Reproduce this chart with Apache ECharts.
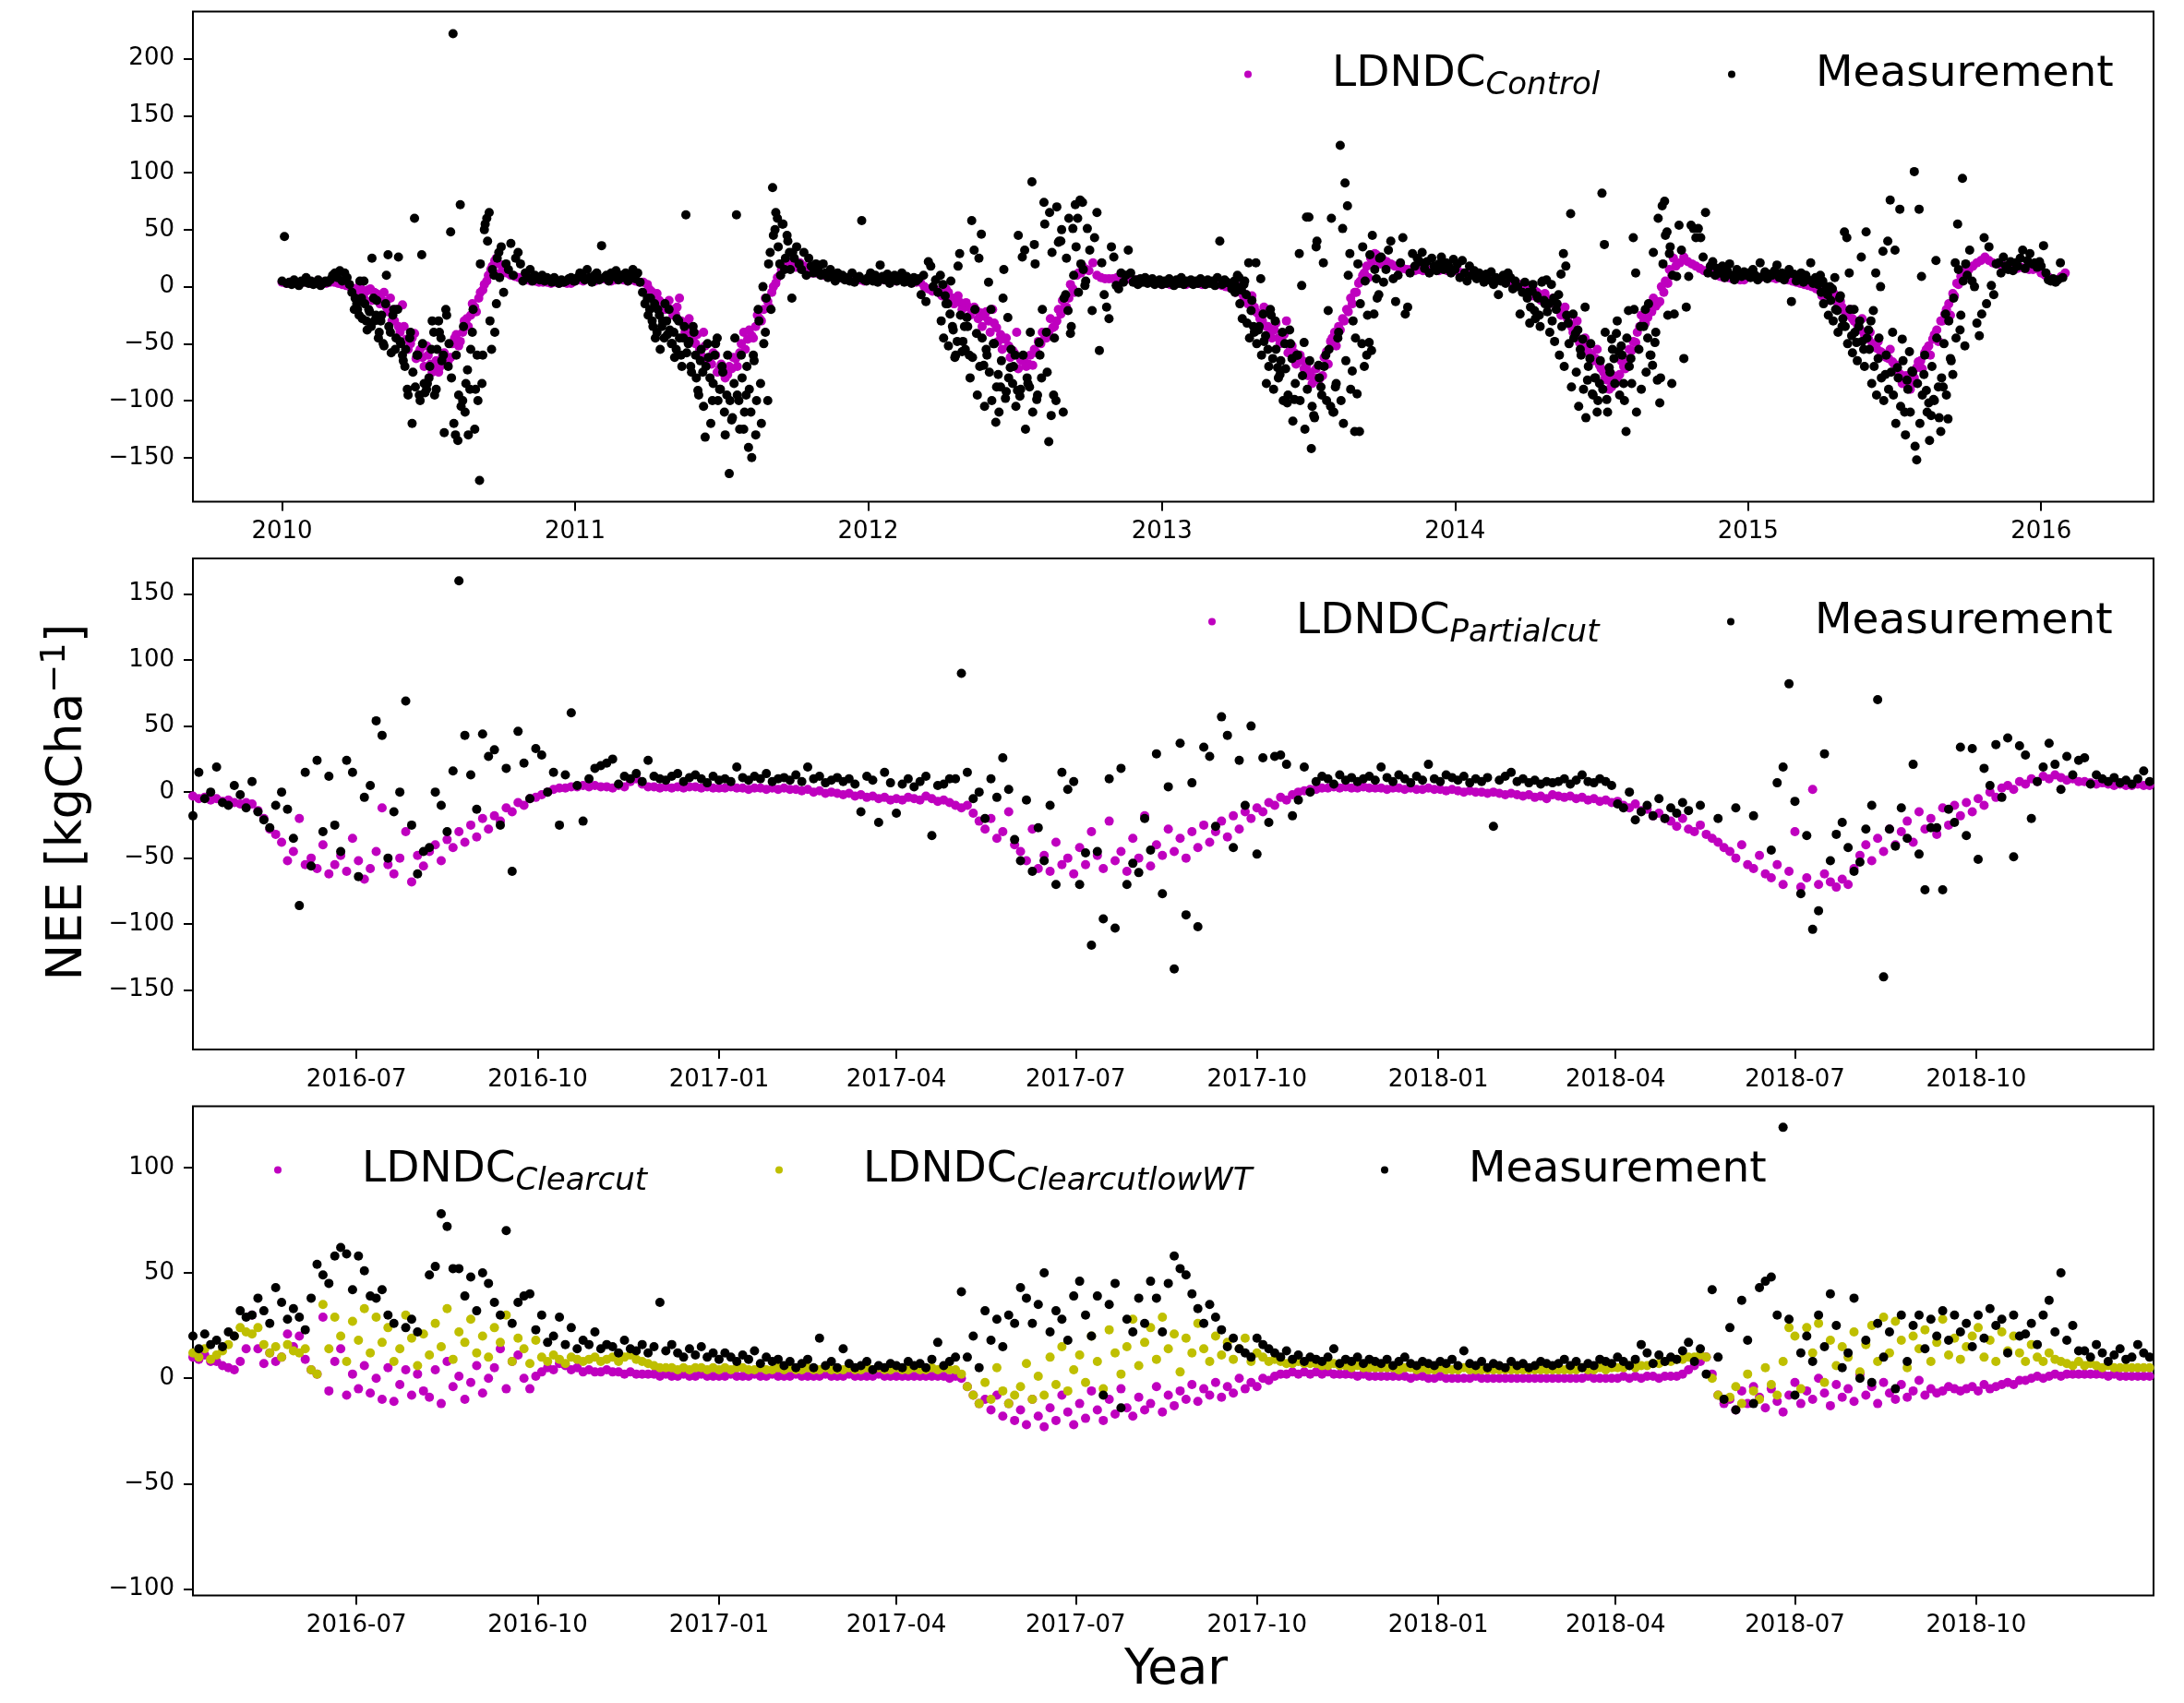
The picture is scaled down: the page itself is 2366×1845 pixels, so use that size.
<!DOCTYPE html>
<html>
<head>
<meta charset="utf-8">
<script src="https://cdn.jsdelivr.net/npm/echarts@6/dist/echarts.min.js"></script>
<style>
  html, body { margin: 0; padding: 0; background: #ffffff; }
  #chartContainer { width: 2366px; height: 1845px; }
</style>
</head>
<body>
<div id="chartContainer"></div>
<script>
var FONT = 'DejaVu Sans';
var MAGENTA = '#bf00bf';
var OLIVE = '#bfbf00';
var BLACK = '#000000';

// tick positions
var YEAR_TICKS = [2010, 2011, 2012, 2013, 2014, 2015, 2016];
var QUARTER_TICKS = ['2016-07', '2016-10', '2017-01', '2017-04', '2017-07', '2017-10', '2018-01', '2018-04', '2018-07', '2018-10'];
var Y_TICKS_CONTROL = [-150, -100, -50, 0, 50, 100, 150, 200];
var Y_TICKS_PARTIAL = [-150, -100, -50, 0, 50, 100, 150];
var Y_TICKS_CLEAR = [-100, -50, 0, 50, 100];

// Control site: LDNDC every 5 days from 1 Jan of each year
var CTRL_MODEL_STEP = 5;
var ctrlModel2010 = [4,3,4,5,3,4,4,3,4,5,4,3,4,4,3,2, 1,0,-2,-1,-3,-4,-2,-5, -7,-12,-18,-10,-30,-35,-16,
  -46,-50,-41,-58,-62,-52,-68, -72,-75,-60,-68, -62,-45,-52,-40,-28,-25, -18,-10,-3,5, 15,23,20,
  14,12,10,9,8,7, 6,5,5,4,4,4,3,4,3,4,3,3];
var ctrlModel2011 = [5,6,5,7,6,5,6,7,6,5,6,7,6,5,6,5,4,4, 2,-4,-8,-12,-15,-18, -20,-24,-10,-32,-35,-45,
  -50,-55,-40,-64,-68,-60,-72, -76,-77,-72, -63,-58,-40,-46,-43, -35,-28,-20,-13, -5,3,10,18,
  20,18,17,21,18,15,12, 12,11,10,10,9,8,8,7,7,6,6,6,5];
var ctrlModel2012 = [6,7,5,8,6,9,7,5,8,6,5,4,4,4, 0,-2,-4,-3,-6,-7,-5, -10,-12,-14,-16,-18,-20,-21,
  -23,-26,-30,-20,-36,-42,-46, -52,-56,-40,-64,-66,-68,-69,-58, -50,-45,-40,-36,-30, -24,-18,-10,-2,
  10,12,15,14,21, 10,8,7,7,7,8,7,6,7,6, 6,5,5,4,5,4];
var ctrlModel2013 = [2,3,2,3,4,3,2,3,4,3,2,3,4,3,2,1,0,-1,-2,-4,-6, -7,-12,-18,-24,-30,-35,-40,
  -38,-45,-49,-30,-55,-58,-63,-65, -69,-75,-80,-82,-78, -57,-48,-40,-35, -28,-20,-10,-5,3,
  10,18,25,29, 26,24,22,20, 18,17,16,15,15,14,15,14,15,14,15,14,15,14,14];
var ctrlModel2014 = [14,13,12,12,11,10,9,8,8,7, 7,7,6,5,4,3,2,1,0,-2,-4, -7,-9,-11,-13,-15,-18,
  -22,-28,-35,-42,-49, -52,-56,-60,-63,-69, -75,-82,-88,-85, -77,-70,-63,-56,-49,
  -35,-31,-27,-22,-17,-13, -5,3,10,18,21, 26,22,20,18,16,14,13,12, 10,9,8,8,7,7,6,6];
var ctrlModel2015 = [9,9,8,8,9,8,8,7,8,7,6, 5,4,3,2,1,0,-2, -4,-6,-8,-10,-12,-13, -21,-25,-28,-32,
  -38,-42,-46,-50,-54, -57,-60,-63,-66,-69, -77,-82,-88,-85, -71,-65,-58,-52, -46,-38,-30,-24,
  -15,-6,3,9, 12,15,18,21,23, 26,23,21,20,19,18,18,17,16,17,16,15,15,16];
var ctrlModel2016 = [12,10,8,6,6,9,12];

// Control site: LDNDC growing-season days in between, every 5 days from day 92
var CTRL_SUMMER_MODEL_START = 92;
var ctrlModelSummer2010 = [-8,2,-10,-3,-12,-6,-15,-5,-22,-30, -20,-40,-35,-55,-45,-63,-55,-70,-60,-75,
  -65,-70,-58,-65,-50,-42,-48,-30,-35,-15, -22,-5,2,10,18,25,12];
var ctrlModelSummer2011 = [-2,-10,-6,-15,-20,-12,-25,-18,-30,-40, -28,-48,-42,-60,-52,-65,-58,-75,-68,-80,
  -70,-62,-70,-50,-55,-38,-45,-25,-30,-10, -18,0,8,15,24,18,22];
var ctrlModelSummer2012 = [-8,-2,-12,-15,-8,-20,-14,-25,-18,-28, -35,-22,-40,-32,-48,-55,-45,-62,-58,-72,
  -65,-70,-60,-55,-48,-40,-45,-28,-35,-20, -12,-18,2,-5,12,18,15];
var ctrlModelSummer2013 = [-5,0,-10,-15,-8,-22,-28,-18,-35,-45, -32,-50,-42,-58,-52,-68,-60,-72,-78,-85,
  -72,-80,-62,-68,-45,-52,-38,-30,-22,-15, -5,5,12,8,22,28,20];
var ctrlModelSummer2014 = [0,-8,-5,-12,-6,-15,-10,-20,-25,-18, -32,-40,-30,-50,-45,-58,-65,-55,-72,-80,
  -90,-78,-82,-65,-72,-55,-48,-40,-25,-32, -18,-10,-15,0,5,15,25];
var ctrlModelSummer2015 = [-8,-2,-12,-6,-15,-18,-25,-20,-30,-36, -28,-45,-40,-52,-48,-58,-62,-55,-68,-75,
  -85,-78,-90,-80,-66,-72,-55,-60,-42,-48, -30,-20,-25,-8,2,10,18];

// Control site: measurements every 3 days from 1 Jan of each year
var CTRL_MEAS_STEP = 3;
var ctrlMeas2010 = [5,44,3,4,2,6,3,1,5,4,8, 3,5,2,4,6,1,3,5,4, 6,10,12,8,14,5,12,8,2,-5,-20,
  -15,-25,-10,5,-30,-20,-35,-10,-25,-45, -30,-50,-15,28,-40,-25,-55,-20,-48,-60,
  -70,-90,-45,-120,60,-60,-95,28,-85,-90, -80,-55,-40,-90,-30,-45,-60,-20,-70,48,
  222,-130,-135,72,-100,-110,-73,-90,-40,-125, -60,-170,-85,50,60,65,-55,10,-15,30,
  35,-5,20,15,38,10,25,30,20,5, 12,8,15,5,10,8,6,10,5,8, 6,4,8,5,3,6,4,5,7,8,5];
var ctrlMeas2011 = [5,8,12,10,6,15,8,4,10,12,6, 36,8,10,5,12,9,14,6,10, 8,12,5,10,15,7,12,4,-5,-15,-10,
  -20,-30,-15,-40,-25,-35,-45,-30,-20,-50, -40,-55,-30,-60,-45,63,-50,-70,-35,-60,
  -91,-65,-75,-132,-50,-80,-100,-60,-45,-90, -70,-110,-95,-164,-117,-85,63,-100,-60,-125,
  -95,-141,-110,-60,-130,-20,-85,0,-40,-100, 30,87,50,60,20,55,15,45,30,-10,
  25,35,20,15,30,10,25,18,12,20, 15,10,20,12,8,15,10,5,12,8, 10,6,8,5,12,4,7,9,58,6,5];
var ctrlMeas2012 = [8,12,5,10,4,19,9,6,11,3,7, 10,5,8,12,4,9,6,3,8, 5,7,-7,10,-13,22,18,0,6,-5,10,
  2,-8,-15,-24,-35,-62,-48,29,-57,-35, -27,-60,58,32,-41,25,46,-69,-55,4,
  -20,-50,-119,-77,-88,-10,-98,-27,-71,-85, -60,-91,-96,26,32,-80,-88,92,37,-99,
  -49,-80,74,-40,-136,-113,-95,-100,39,40, -110,-7,-21,-41,51,72,60,76,74,1,
  51,32,-21,43,65,-56,21,-7,-18,-28, 35,26,1,-2,12,4,10,32,12,4, 6,2,7,4,8,3,5,7,2,4,6];
var ctrlMeas2013 = [2,5,3,7,4,1,6,3,8,2,5, 4,6,2,5,3,7,4,2,6, 3,5,1,8,40,2,6,4,3,-2,5,
  0,8,-3,2,-7,21,-21,-35,21,-38, 7,-24,-43,-55,-20,-63,-30,-71,-77,-40,
  -50,-102,-38,-63,-99,-60,29,1,-49,61, 61,-142,-113,35,-69,-88,21,-60,-21,-105,
  -110,-88,-45,124,51,91,71,29,-74,-127, -94,-127,-50,-70,-60,-49,-56,-24,7,-7,
  26,4,15,32,40,7,-13,10,21,43, -24,-18,12,29,18,25,22,30,16,22, 12,25,18,14,20,26,15,21,18,12,24];
var ctrlMeas2014 = [15,20,8,23,12,5,18,10,14,7,12, 9,4,11,6,13,2,8,-7,5, 10,3,12,8,-2,5,0,-24,-5,4,-10,
  -32,-4,-21,-8,-25,4,-12,6,-15,2, -10,-20,-7,11,29,18,-32,64,-24,-41,
  -38,-55,-46,-18,-82,-63,-94,-80,-110,-85, 82,37,-99,-71,-46,-63,-41,-57,-52,-85,
  -127,-21,-63,43,12,null,-35,null,-20,-45, -60,-69,-49,-82,-102,71,75,48,29,-85,
  -24,9,54,32,-63,-18,9,54,51,43, 51,43,26,65,12,18,22,10,16,12, 18,8,14,20,10,6,15,11,9,13,10];
var ctrlMeas2015 = [12,8,15,10,6,21,9,13,7,11,10, 14,19,8,12,6,10,15,-13,11, 5,8,12,4,10,6,21,3,8,2,10,
  5,-4,-7,0,-2,8,-21,-10,-35,48, 43,12,-43,-20,-49,-35,26,-55,48,-38,
  -30,-21,12,-63,0,31,-77,40,76,-40, 32,-71,68,-46,-110,-82,-57,-74,101,-152,
  68,9,-77,-91,-102,-113,-99,23,-88,-127, -88,-24,-116,-63,-77,21,55,-38,95,-52,
  10,32,5,0,-32,-43,-24,43,-15,35, 1,-7,20,21,12,26,18,15,22,14, 21,18,25,32,16,23,29,20,21,17,22];
var ctrlMeas2016 = [18,36,12,6,5,7,4,6,21,8];

// Control site: growing-season measurements in between, every 3 days from day 91
var CTRL_SUMMER_MEAS_START = 91;
var ctrlMeasSummer2010 = [-10,-20,5,-28,-15,-38,-22,25,-30,-12, -40,-25,-52,10,-35,-58,-20,-45,26,-50,
  -65,-55,-95,-40,-75,-88,-60,-100,-50,-93, -85,-70,-30,-95,-55,-40,-65,-128,-25,-50,
  -80,-120,-60,-95,-105,-35,-85,-130,-55,-20, -90,-100,20,-60,55,40,-30,15,-40,25,8];
var ctrlMeasSummer2011 = [-25,-10,-35,-45,-20,-55,-30,-15,-42,-38, -50,-62,-28,-45,-70,-35,-58,-48,-75,-40,
  -80,-95,-55,-105,-70,-62,-120,-85,-50,-100, -90,-75,-130,-60,-100,-115,-45,-95,-125,-80,
  -110,-70,-90,-150,-65,-100,-30,-120,-50,-10, 20,-20,45,65,35,10,55,25,40,15,30];
var ctrlMeasSummer2012 = [-30,-45,-15,-52,5,-38,-60,18,-25,-48, -55,-35,-80,-62,-20,-95,-70,-45,-105,-60,
  -75,-100,-50,-88,-110,-65,15,-92,-80,-55, -70,-105,45,-90,-60,-125,-85,-40,-110,20,
  -95,-60,-20,55,-75,65,30,-45,70,40, 50,-10,25,60,-35,10,35,-5,20,15,5];
var ctrlMeasSummer2013 = [-5,10,-15,-28,5,-32,-45,-12,-40,-50, -35,-60,-48,-85,-70,-25,-90,-55,-80,-65,
  -100,-72,-95,-50,-118,-85,-60,-100,-78,-125, -90,-65,-105,-115,40,-80,-95,-70,-100,-55,
  60,-110,-85,-40,-100,-120,-65,10,-90,-30, -45,20,-15,35,5,-25,28,45,15,-10,25];
var ctrlMeasSummer2014 = [-5,-18,2,-28,-10,-35,5,-15,-22,-40, -30,-48,-15,-60,-35,-70,-25,-50,-88,-45,
  -75,-105,-60,-90,-115,-70,-50,-95,-80,-100, -65,-90,-40,-110,-75,-55,-85,-30,-95,-60,
  -100,-45,-70,-85,-20,-110,-55,-90,-35,-75, -15,-60,30,-40,60,-80,20,45,-25,35,10];
var ctrlMeasSummer2015 = [-5,-15,0,-25,-12,-30,-20,-40,-8,-28, -35,-50,-20,-58,-40,-65,-30,-48,-70,-45,
  -55,-85,-70,-95,-45,-80,-100,-60,-90,-75, -95,-120,-80,-105,-65,-130,-90,-110,-75,-140,
  -85,-120,-95,-60,-110,-135,-70,-100,-45,-115, -80,-50,-95,-30,-65,-10,-45,15,-25,5,20];

// Cut sites: every 3 days from 9 Apr 2016
var CUT_START = [2016, 3, 9];
var CUT_STEP = 3;
var partialModel = [-3,-5,-4,-6,-5,-7,-6,-8,-9,-8, -9,-14,-20,-28,-32,-38,-52,-45,-20,-55,
  -50,-58,-40,-62,-55,-48,-60,-35,-52,-66, -58,-45,-12,-55,-62,-50,-30,-68,-48,-56,
  -45,-40,-52,-36,-42,-30,-38,-25,-34,-20, -28,-18,-22,-12,-15,-8,-10,-5,-4,-2,
  0,2,3,3,4,4,5,4,5,4, 4,3,5,4,8,10,6,4,4,3, 4,3,4,3,4,4,3,4,3,3, 3,4,3,3,2,3,3,2,3,2,
  3,2,2,1,2,0,1,-1,0,-1, -2,-1,-3,-2,-4,-3,-5,-4,-6,-5, -6,-4,-5,-6,-3,-5,-7,-6,-8,-10,
  -12,-10,-16,-22,-28,-20,-35,-30,-15,-40, -45,-52,-28,-58,-48,-60,-38,-55,-50,-62,
  -42,-55,-30,-48,-58,-22,-52,-45,-60,-35, -50,-18,-56,-40,-48,-28,-45,-35,-50,-30,
  -42,-25,-38,-30,-22,-34,-18,-28,-15,-20, -12,-15,-8,-10,-4,-6,-2,0,1,2,
  2,3,3,4,3,4,3,3,4,3, 3,3,2,3,3,2,3,2,2,3, 2,2,1,2,1,0,1,0,0,-1, 0,-1,-2,-1,-2,-3,-2,-4,-3,-5,
  -2,-3,-4,-3,-5,-4,-6,-5,-7,-6, -8,-7,-10,-12,-9,-14,-13,-18,-16,-20,
  -22,-26,-20,-28,-30,-25,-32,-35,-38,-42, -45,-50,-40,-55,-58,-48,-62,-65,-55,-70,
  -60,-30,-72,-65,2,-70,-62,-68,-72,-66, -70,-58,-48,-40,-52,-35,-45,-28,-40,-30,
  -22,-38,-15,-28,-20,-32,-12,-25,-10,-18, -8,-15,-5,-10,0,-4,3,5,2,8,
  6,10,8,12,10,13,11,9,10,8, 8,7,6,7,6,5,6,5,5,6,5,5];
var partialMeas = [-18,15,-5,0,19,-8,-10,5,-2,-12, 8,-15,-21,-27,-10,0,-13,-35,-86,15,
  -56,24,-30,12,-25,-45,24,15,-64,-4, 5,54,43,-50,-15,0,69,-25,-62,-45,
  -42,0,-10,-30,16,160,43,13,-13,44, 27,32,-25,18,-60,46,22,-5,33,28,
  0,15,-25,13,60,5,-22,10,18,20, 22,25,6,12,10,14,8,24,12,10, 9,12,14,8,11,13,10,7,12,9,
  10,8,19,11,9,12,10,14,8,10, 11,9,13,8,19,10,12,7,9,11, 8,10,6,-15,12,9,-23,15,7,-16,
  6,10,4,8,12,-33,5,6,10,10, 90,15,-5,0,-20,10,-4,26,2,-36, -52,-6,-60,-27,-52,-10,-70,15,2,8,
  -70,-46,-116,-45,-96,10,-103,18,-70,-54, -61,-20,-44,29,-77,4,-134,37,-93,7,
  -102,34,27,-26,57,43,-42,24,-10,50, -47,26,-23,27,28,21,-18,-6,19,0,
  8,12,10,6,13,9,11,8,10,12, 9,19,11,8,13,10,7,12,9,21, 10,8,13,11,9,12,7,10,8,11,
  -26,9,12,15,8,10,7,9,6,8, 7,8,10,6,9,13,8,7,10,8, 5,-9,-12,0,-21,-15,-10,-18,-5,-20,
  -12,-16,-8,-14,null,-10,null,null,-20,null, null,-12,null,null,-18,null,null,-44,7,19,
  82,-7,-77,-33,-104,-90,29,-52,-32,-23, -42,-60,-53,-28,-10,70,-140,-28,-41,-12,
  -35,21,-47,-74,-27,-27,-74,-13,-23,34, -33,33,-51,18,5,36,-4,41,-49,35,
  28,-20,8,19,37,21,2,27,13,24, 26,6,13,10,8,11,7,9,6,10,16,8];
var clearModel = [10,9,11,8,8,6,5,4,8,14, 30,14,7,12,8,10,21,15,20,9, 4,2,29,-6,8,14,-8,2,-5,6,
  -7,0,-10,5,-11,-3,4,-8,2,-6, -9,4,-12,8,-4,1,-10,-2,6,-7, 0,5,14,-5,8,11,0,-5,1,3,
  5,4,7,6,4,5,3,4,3,3, 4,3,3,2,3,2,2,2,2,1, 2,1,1,2,1,1,2,1,1,1, 1,2,1,1,1,2,1,1,2,1,
  1,1,2,1,1,1,1,2,1,1, 1,2,1,1,1,1,2,1,1,1, 1,1,1,1,1,1,1,1,0,1,
  0,-4,-8,-12,-10,-15,-8,-18,-12,-20, -15,-22,-10,-18,-23,-14,-20,-8,-16,-22,
  -12,-19,-6,-15,-20,-10,-17,-5,-14,-18, -9,-15,-12,-4,-16,-8,-13,-6,-10,-3,
  -11,-5,-8,-2,-9,-4,-7,0,-5,-2, -4,0,-1,1,2,2,3,2,3,2, 3,2,3,2,2,2,2,1,2,1,
  1,1,1,1,1,1,0,1,1,0, 0,1,0,0,0,0,0,1,0,0, 0,0,0,0,0,0,0,0,0,0, 0,0,0,0,0,0,1,0,0,0,
  0,0,1,0,1,0,1,1,0,1, 1,1,2,4,6,8,10,2,-8,-12, -10,-15,-6,-12,-4,-9,-14,-5,-11,-16,
  -8,-2,-12,-6,-10,0,-7,-13,-3,-9, -5,-11,2,-8,-4,-12,-2,-7,-10,-3, -9,-6,-1,-8,-5,-7,-6,-4,-5,-6,
  -5,-4,-6,-3,-5,-4,-3,-2,-3,-1, -1,0,1,0,1,2,1,2,2,2, 2,2,2,2,1,2,1,1,1,1,1,1];
var clearLowWtModel = [12,10,14,9,11,13,16,20,24,22, 21,24,16,12,15,10,16,13,12,14,
  4,2,35,14,29,20,8,27,18,33, 12,29,17,24,8,14,30,19,6,21, 11,26,15,33,9,22,17,28,12,20,
  10,24,17,30,8,19,14,7,18,10, 8,11,9,7,10,9,8,9,10,8, 9,10,8,10,11,9,8,7,6,5,
  5,5,4,5,4,5,5,4,5,4, 5,4,5,5,4,4,5,4,4,5, 4,5,4,4,5,4,4,5,4,4, 4,5,4,4,5,4,5,4,4,5,
  4,4,5,4,4,5,4,5,4,4, 2,-4,-8,-12,-2,-10,5,-6,-12,-8, -4,7,-10,1,-8,10,-3,15,-6,4,
  11,-2,20,8,-5,23,12,2,15,28, 6,17,24,9,29,14,21,3,19,12, 26,14,8,20,11,17,9,14,19,8,
  12,10,8,9,8,7,7,8,7,7, 7,6,6,7,6,6,5,6,5,5, 5,5,5,5,4,5,5,4,5,4, 4,5,4,4,4,5,4,4,4,4,
  4,4,4,4,4,4,4,4,4,4, 4,4,4,4,4,5,4,4,5,4, 5,5,5,6,5,6,6,7,7,8, 8,9,9,10,10,11,10,0,-8,-10,
  -9,-4,-12,2,-6,-10,5,-3,-8,8, 24,20,-5,24,12,26,-2,18,6,15, 10,22,3,16,25,8,29,12,27,18,
  5,20,14,23,8,17,28,11,19,9, 15,20,24,10,18,8,22,13,20,12, 8,16,10,8,12,9,8,7,6,8,
  6,7,6,5,6,5,5,5,5,5,5,5];
var clearMeas = [20,14,21,16,18,15,22,20,32,29, 30,38,32,26,43,36,28,33,29,23,
  38,54,49,45,58,62,59,42,58,51, 39,38,42,30,26,null,24,28,22,null,
  49,53,78,72,52,52,39,48,32,50, 45,36,30,70,26,36,39,40,23,30,
  17,20,29,16,24,14,18,16,22,14, 16,15,12,18,14,13,16,12,15,36, 13,16,12,10,14,11,15,10,12,9,
  12,10,8,11,9,13,7,10,8,9, 6,8,5,7,9,5,19,6,8,5, 14,7,5,6,8,4,6,5,7,6,
  5,8,6,7,5,9,17,6,8,10, 41,10,20,5,32,18,28,15,30,26, 43,38,26,35,50,22,32,28,18,39,
  46,30,20,39,-8,35,45,-14,28,22, 38,26,46,38,22,45,58,52,49,40, 33,26,35,29,23,15,19,14,12,10,
  19,16,14,12,10,13,9,11,8,10, 9,8,10,14,7,9,8,10,7,9, 8,7,9,6,8,10,7,6,8,7,
  6,8,7,9,6,13,7,6,8,5, 7,6,5,8,6,7,5,6,8,7, 6,7,9,6,8,5,7,6,9,8, 7,10,8,6,9,16,12,7,11,8,
  10,9,13,17,8,14,2,42,10,-10, 24,-15,37,18,-12,43,46,48,30,119, 28,-8,12,20,8,30,15,40,25,5,
  12,38,0,18,-2,26,10,22,-5,30, 8,25,30,14,28,20,32,18,30,22, 26,15,30,19,33,25,28,12,30,20,
  21,26,16,30,37,22,50,18,25,13, 13,10,16,12,8,11,14,9,10,16,12,10];

function yearSeries(year, startDay, step, values) {
  var out = [];
  values.forEach(function (v, i) {
    if (v !== null) out.push([new Date(year, 0, 1 + startDay + i * step).getTime(), v]);
  });
  return out;
}

function cutSeries(values) {
  var out = [];
  values.forEach(function (v, i) {
    if (v !== null) out.push([new Date(CUT_START[0], CUT_START[1], CUT_START[2] + i * CUT_STEP).getTime(), v]);
  });
  return out;
}

var ctrlModelData = [].concat(
  yearSeries(2010, 0, CTRL_MODEL_STEP, ctrlModel2010), yearSeries(2011, 0, CTRL_MODEL_STEP, ctrlModel2011),
  yearSeries(2012, 0, CTRL_MODEL_STEP, ctrlModel2012), yearSeries(2013, 0, CTRL_MODEL_STEP, ctrlModel2013),
  yearSeries(2014, 0, CTRL_MODEL_STEP, ctrlModel2014), yearSeries(2015, 0, CTRL_MODEL_STEP, ctrlModel2015),
  yearSeries(2016, 0, CTRL_MODEL_STEP, ctrlModel2016),
  yearSeries(2010, CTRL_SUMMER_MODEL_START, CTRL_MODEL_STEP, ctrlModelSummer2010),
  yearSeries(2011, CTRL_SUMMER_MODEL_START, CTRL_MODEL_STEP, ctrlModelSummer2011),
  yearSeries(2012, CTRL_SUMMER_MODEL_START, CTRL_MODEL_STEP, ctrlModelSummer2012),
  yearSeries(2013, CTRL_SUMMER_MODEL_START, CTRL_MODEL_STEP, ctrlModelSummer2013),
  yearSeries(2014, CTRL_SUMMER_MODEL_START, CTRL_MODEL_STEP, ctrlModelSummer2014),
  yearSeries(2015, CTRL_SUMMER_MODEL_START, CTRL_MODEL_STEP, ctrlModelSummer2015));
var ctrlMeasData = [].concat(
  yearSeries(2010, 0, CTRL_MEAS_STEP, ctrlMeas2010), yearSeries(2011, 0, CTRL_MEAS_STEP, ctrlMeas2011),
  yearSeries(2012, 0, CTRL_MEAS_STEP, ctrlMeas2012), yearSeries(2013, 0, CTRL_MEAS_STEP, ctrlMeas2013),
  yearSeries(2014, 0, CTRL_MEAS_STEP, ctrlMeas2014), yearSeries(2015, 0, CTRL_MEAS_STEP, ctrlMeas2015),
  yearSeries(2016, 0, CTRL_MEAS_STEP, ctrlMeas2016),
  yearSeries(2010, CTRL_SUMMER_MEAS_START, CTRL_MEAS_STEP, ctrlMeasSummer2010),
  yearSeries(2011, CTRL_SUMMER_MEAS_START, CTRL_MEAS_STEP, ctrlMeasSummer2011),
  yearSeries(2012, CTRL_SUMMER_MEAS_START, CTRL_MEAS_STEP, ctrlMeasSummer2012),
  yearSeries(2013, CTRL_SUMMER_MEAS_START, CTRL_MEAS_STEP, ctrlMeasSummer2013),
  yearSeries(2014, CTRL_SUMMER_MEAS_START, CTRL_MEAS_STEP, ctrlMeasSummer2014),
  yearSeries(2015, CTRL_SUMMER_MEAS_START, CTRL_MEAS_STEP, ctrlMeasSummer2015));

var yearTickValues = YEAR_TICKS.map(function (y) { return new Date(y, 0, 1).getTime(); });
var quarterTickValues = QUARTER_TICKS.map(function (s) {
  var p = s.split('-');
  return new Date(+p[0], +p[1] - 1, 1).getTime();
});

function yearLabel(v) { return String(new Date(v).getFullYear()); }
function monthLabel(v) {
  var d = new Date(v);
  var m = d.getMonth() + 1;
  return d.getFullYear() + '-' + (m < 10 ? '0' + m : m);
}
function minusLabel(v) { return v < 0 ? '\u2212' + Math.abs(v) : String(v); }

function tickStyle(ticks) {
  return { show: true, inside: false, length: 10, customValues: ticks, lineStyle: { color: BLACK, width: 2 } };
}

// dates are kept as millisecond numbers on a value axis
function dateAxis(gridIndex, min, max, ticks, fmt) {
  return {
    type: 'value', gridIndex: gridIndex, min: min, max: max, scale: true,
    axisLine: { show: false, onZero: false },
    axisTick: tickStyle(ticks),
    axisLabel: { customValues: ticks, formatter: fmt, fontSize: 26, fontFamily: FONT, color: BLACK, margin: 20 },
    splitLine: { show: false }
  };
}

function valueAxis(gridIndex, min, max, ticks) {
  return {
    type: 'value', gridIndex: gridIndex, min: min, max: max,
    axisLine: { show: false, onZero: false },
    axisTick: tickStyle(ticks),
    axisLabel: { customValues: ticks, formatter: minusLabel, fontSize: 26, fontFamily: FONT, color: BLACK, margin: 20 },
    splitLine: { show: false }
  };
}

function dots(name, axisIndex, data, color) {
  return {
    name: name, type: 'scatter', xAxisIndex: axisIndex, yAxisIndex: axisIndex,
    data: data, symbol: 'circle', symbolSize: 10,
    itemStyle: { color: color, opacity: 1 },
    emphasis: { disabled: true }, animation: false
  };
}

var LEGEND_TEXT = {
  'LDNDC Control': '{g| }{m|LDNDC}{s|Control}',
  'LDNDC Partialcut': '{g| }{m|LDNDC}{s|Partialcut}',
  'LDNDC Clearcut': '{g| }{m|LDNDC}{s|Clearcut}',
  'LDNDC ClearcutlowWT': '{g| }{m|LDNDC}{s|ClearcutlowWT}',
  'Measurement': '{g| }{m|Measurement}'
};
var LEGEND_RICH = {
  g: { width: 82, fontSize: 47, fontFamily: FONT },
  m: { fontSize: 47, lineHeight: 60, fontFamily: FONT, color: BLACK },
  s: { fontSize: 34, lineHeight: 40, fontStyle: 'italic', fontFamily: FONT, color: BLACK, verticalAlign: 'bottom' }
};

function legendItem(name, left, top) {
  return {
    data: [name], left: left, top: top, padding: 0, orient: 'horizontal',
    icon: 'circle', itemWidth: 8, itemHeight: 8, itemGap: 0, selectedMode: false,
    formatter: function (n) { return LEGEND_TEXT[n]; },
    textStyle: { color: BLACK, fontFamily: FONT, fontSize: 47, rich: LEGEND_RICH }
  };
}

var GRID_STYLE = { show: true, borderColor: BLACK, borderWidth: 2, backgroundColor: 'transparent' };

var CHART_OPTION = {
  backgroundColor: '#ffffff',
  animation: false,
  grid: [
    Object.assign({ left: 209, width: 2124, top: 12.5, height: 531 }, GRID_STYLE),
    Object.assign({ left: 209, width: 2124, top: 605, height: 532 }, GRID_STYLE),
    Object.assign({ left: 209, width: 2124, top: 1198.5, height: 530 }, GRID_STYLE)
  ],
  xAxis: [
    dateAxis(0, new Date(2009, 8, 12).getTime(), new Date(2016, 4, 20).getTime(), yearTickValues, yearLabel),
    dateAxis(1, new Date(2016, 3, 9).getTime(), new Date(2018, 11, 30).getTime(), quarterTickValues, monthLabel),
    dateAxis(2, new Date(2016, 3, 9).getTime(), new Date(2018, 11, 30).getTime(), quarterTickValues, monthLabel)
  ],
  yAxis: [
    valueAxis(0, -188.6, 241.4, Y_TICKS_CONTROL),
    valueAxis(1, -195, 177, Y_TICKS_PARTIAL),
    valueAxis(2, -103, 129, Y_TICKS_CLEAR)
  ],
  legend: [
    legendItem('LDNDC Control', 1348, 57),
    legendItem('Measurement', 1872, 57),
    legendItem('LDNDC Partialcut', 1309, 650),
    legendItem('Measurement', 1871, 650),
    legendItem('LDNDC Clearcut', 297, 1244),
    legendItem('LDNDC ClearcutlowWT', 840, 1244),
    legendItem('Measurement', 1496, 1244)
  ],
  series: [
    dots('LDNDC Control', 0, ctrlModelData, MAGENTA),
    dots('Measurement', 0, ctrlMeasData, BLACK),
    dots('LDNDC Partialcut', 1, cutSeries(partialModel), MAGENTA),
    dots('Measurement', 1, cutSeries(partialMeas), BLACK),
    dots('LDNDC Clearcut', 2, cutSeries(clearModel), MAGENTA),
    dots('LDNDC ClearcutlowWT', 2, cutSeries(clearLowWtModel), OLIVE),
    dots('Measurement', 2, cutSeries(clearMeas), BLACK)
  ],
  graphic: [
    {
      type: 'text', x: 74, y: 869, rotation: Math.PI / 2, silent: true,
      style: {
        text: '{a|NEE [kgCha}{b|\u22121}{a|]}',
        align: 'center', verticalAlign: 'middle', fill: BLACK,
        rich: {
          a: { fontSize: 53, lineHeight: 64, fontFamily: FONT, fill: BLACK },
          b: { fontSize: 37, lineHeight: 36, fontFamily: FONT, fill: BLACK, verticalAlign: 'top' }
        }
      }
    },
    {
      type: 'text', x: 1274, y: 1810, silent: true,
      style: { text: 'Year', fontSize: 53, fontFamily: FONT, fill: BLACK, align: 'center', verticalAlign: 'middle' }
    }
  ]
};

var CHART = echarts.init(document.getElementById('chartContainer'), null, { renderer: 'canvas' });
CHART.setOption(CHART_OPTION);
</script>
</body>
</html>
